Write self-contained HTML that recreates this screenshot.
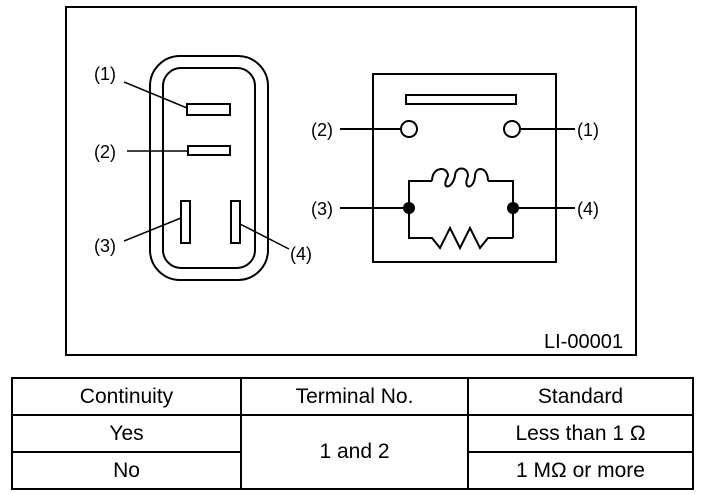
<!DOCTYPE html>
<html><head><style>
body{margin:0;width:704px;height:494px;background:#fff;font-family:"Liberation Sans",sans-serif;}
svg{position:absolute;left:0;top:0}
table{position:absolute;left:11px;top:377px;border-collapse:collapse;width:683px;font-size:21px}
td{border:2px solid #000;text-align:center;height:35px;padding:0}
</style></head><body>
<svg width="704" height="370" viewBox="0 0 704 370" font-family="Liberation Sans, sans-serif" font-size="18">
<rect x="66" y="7" width="570" height="348" fill="none" stroke="#000" stroke-width="2"/>
<rect x="150" y="56" width="118" height="224" rx="30" fill="none" stroke="#000" stroke-width="2"/>
<rect x="163" y="68" width="92" height="200" rx="18" fill="none" stroke="#000" stroke-width="2"/>
<rect x="187" y="104" width="43" height="11" fill="none" stroke="#000" stroke-width="2"/>
<rect x="188" y="146" width="42" height="9" fill="none" stroke="#000" stroke-width="2"/>
<rect x="181" y="201" width="9" height="42" fill="none" stroke="#000" stroke-width="2"/>
<rect x="231" y="201" width="9" height="42" fill="none" stroke="#000" stroke-width="2"/>
<g stroke="#000" stroke-width="1.5">
<line x1="124" y1="82" x2="187" y2="108"/>
<line x1="127" y1="151" x2="188" y2="151"/>
<line x1="124" y1="241" x2="181" y2="218"/>
<line x1="240" y1="224" x2="289" y2="249"/>
</g>
<text x="94" y="80">(1)</text><text x="94" y="158">(2)</text><text x="94" y="252">(3)</text><text x="290" y="260">(4)</text>
<rect x="373" y="74" width="183" height="188" fill="none" stroke="#000" stroke-width="2"/>
<rect x="406" y="95" width="110" height="9" fill="none" stroke="#000" stroke-width="2"/>
<g stroke="#000" stroke-width="2" fill="none">
<line x1="340" y1="129" x2="400" y2="129"/>
<line x1="520" y1="129" x2="575" y2="129"/>
<circle cx="409" cy="129" r="8" fill="#fff"/>
<circle cx="512" cy="129" r="8" fill="#fff"/>
<line x1="340" y1="208" x2="409" y2="208"/>
<line x1="513" y1="208" x2="575" y2="208"/>
<polyline points="409,208 409,181 432,181"/>
<path d="M432,181 C432,166 448,166 448,176 C440,190 452,190 455,176 C455,166 468,166 468,176 C462,190 474,190 475,176 C475,166 488,166 488,181"/>
<polyline points="488,181 513,181 513,238"/>
<polyline points="409,208 409,238 432,238 440,248 450,228 460,248 470,228 480,248 488,238 513,238"/>
</g>
<circle cx="409" cy="208" r="6"/><circle cx="513" cy="208" r="6"/>
<text x="311" y="136">(2)</text><text x="577" y="136">(1)</text>
<text x="311" y="215">(3)</text><text x="577" y="215">(4)</text>
<text x="544" y="348" font-size="20">LI-00001</text>
</svg>
<table>
<tr><td style="width:227px">Continuity</td><td style="width:225px">Terminal No.</td><td>Standard</td></tr>
<tr><td>Yes</td><td rowspan="2">1 and 2</td><td>Less than 1 Ω</td></tr>
<tr><td>No</td><td>1 MΩ or more</td></tr>
</table>
</body></html>
